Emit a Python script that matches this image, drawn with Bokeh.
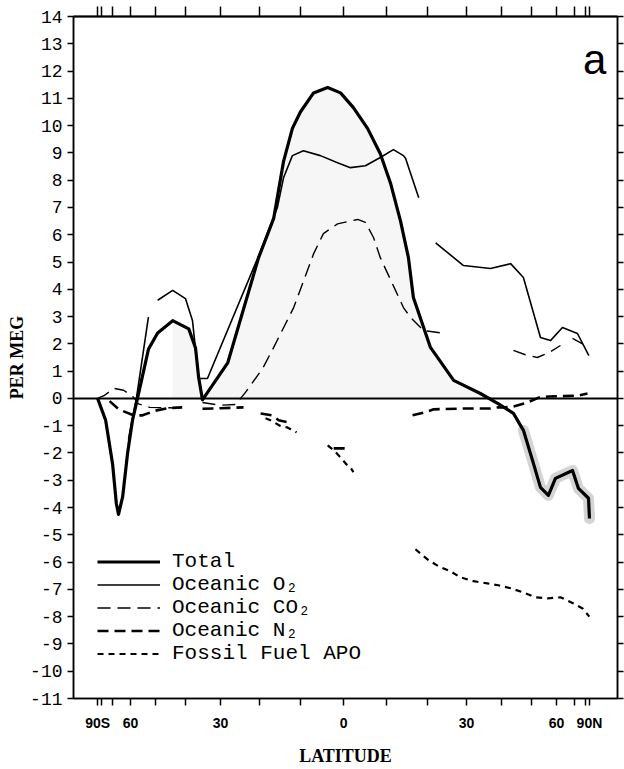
import numpy as np
from bokeh.plotting import figure
from bokeh.models import (Range1d, FixedTicker, LinearAxis, Span, Legend, LegendItem,
                          Label, CustomJSTickFormatter)
from bokeh.embed import file_html
from bokeh.resources import INLINE

nan = float("nan")

# ---------------- data (latitude in degrees, values in per meg) ----------------
total_lat = [-90, -75.3, -69.9, -67.5, -66.2, -63.9, -61.4, -59.1, -56.9, -52.5, -49.1, -44, -39,
             -37, -36.1, -35, -28.1, -20.2, -16.5, -14.1, -12, -10.1, -7, -3.7, -0.7, 2.3, 5.6,
             8.6, 11, 13.4, 15.3, 16.5, 20.7, 26.6, 33.8, 38.8, 43.7, 47, 50.6, 53.2, 56.4, 59.5,
             68.6, 72.8, 85, 90]
total_val = [0, -0.8, -2.4, -3.85, -4.25, -3.6, -2.0, -0.8, 0, 1.8, 2.4, 2.85, 2.55,
             1.85, 0.77, -0.05, 1.3, 5.16, 6.6, 8.7, 9.9, 10.5, 11.2, 11.4, 11.2, 10.66, 9.9,
             8.97, 7.9, 6.5, 5.16, 3.7, 1.87, 0.66, 0.18, -0.18, -0.55, -1.17, -2.4, -3.26, -3.55, -2.93,
             -2.64, -3.3, -3.66, -4.4]

o2_lat = [-61, -57.3, -52.5, nan, -49.1, -44, -40, -37.9, -36.1, -33.6, -19.7, -15.6, -14.1, -12,
          -9.4, -5.4, -1.4, 1.6, 5.1, 8.6, 11.7, 14.1, 14.6, 17.8, nan, 22, 29.2, 36.7, 42.8, 47,
          53.2, 57.3, 62.9, 72, 86]
o2_val = [-1.5, 0.05, 2.98, nan, 3.6, 3.96, 3.66, 2.86, 0.73, 0.73, 5.4, 7.0, 8.1, 8.9,
          9.08, 8.9, 8.64, 8.46, 8.53, 8.83, 9.12, 8.9, 8.8, 7.36, nan, 5.7, 4.87, 4.76, 4.94, 4.43,
          2.23, 2.12, 2.6, 2.38, 1.57]

co2_lat = [-90, -77, -69, -63.4, -58.6, -56.5, -52, -42.5, nan, -35, -30, -26, -23.5, -19.2, -16.5,
           -11.7, -7, -4.7, -1.4, 3.3, 5.1, 7, 8.6, 12.2, 14.1, 15.8, 19, 24.5, nan, 43.7, 47.7, 52,
           57, 61.9, nan, 68.6, 76.4]
co2_val = [0, 0.1, 0.37, 0.3, 0.04, -0.2, -0.33, -0.35, nan, -0.15, -0.25, -0.22, 0.22, 1.1, 1.87,
           3.33, 5.3, 6.04, 6.4, 6.56, 6.45, 5.9, 5.16, 3.96, 3.33, 2.97, 2.49, 2.38, nan, 1.76, 1.6, 1.5,
           1.7, 1.94, nan, 2.2, 2.0]

n2_lat = [-72, -66, -58.6, -54.8, -50, -45, -41, nan, -35, -30, -24, nan, -19.7, -16.8, -15.3, -12.4,
          nan, -2.3, 1.2, nan, 16.3, 19.5, 21.5, 29.2, 33, 36.7, 38.8, 40.6, 43.7, 48.4, 52.5, 56.4,
          62, 72, 82.7]
n2_val = [-0.1, -0.4, -0.62, -0.62, -0.45, -0.35, -0.33, nan, -0.38, -0.36, -0.33, nan, -0.55, -0.62,
          -0.8, -0.9, nan, -1.83, -1.83, nan, -0.62, -0.5, -0.4, -0.37, -0.37, -0.37, -0.33, -0.33,
          -0.3, -0.15, 0.03, 0.07, 0.08, 0.1, 0.18]

ff_lat = [-18.5, -17.3, -15, -13.3, -12.4, -11, nan, -3.7, -2.3, -0.7, 0.7, 1.6, 2.3, nan, 17, 20.2,
          22.7, 25.8, 28.4, 31.9, 35.8, 39, 42.8, 46.7, 51.3, 56, 61.9, 68.6, 76.4, 88]
ff_val = [-0.73, -0.8, -1.0, -1.06, -1.13, -1.24, nan, -1.72, -1.9, -2.16, -2.42, -2.53, -2.7, nan,
          -5.53, -5.93, -6.15, -6.34, -6.56, -6.7, -6.78, -6.85, -6.96, -7.1, -7.29, -7.33, -7.29,
          -7.5, -7.7, -8.0]

x_tick_lats = list(range(-90, 91, 10))
x_label_lats = [-90, -60, -30, 0, 30, 60, 90]
x_label_texts = ["90S", "60", "30", "0", "30", "60", "90N"]
y_ticks = list(range(-11, 15))

series_names = ["Total", "Oceanic O\u2082", "Oceanic CO\u2082", "Oceanic N\u2082", "Fossil Fuel APO"]


def sx(lat):
    return np.sin(np.radians(np.asarray(lat, dtype=float)))


# ---------------- figure ----------------
p = figure(width=624, height=769, output_backend="svg", toolbar_location=None,
           x_range=Range1d(-1.098, 1.114), y_range=Range1d(-11, 14),
           min_border_left=73, min_border_right=7, min_border_top=16, min_border_bottom=71,
           background_fill_color="white", border_fill_color="white")
p.xgrid.visible = False
p.ygrid.visible = False
p.outline_line_color = "black"
p.outline_line_width = 1.5

xticker = FixedTicker(ticks=list(sx(x_tick_lats)))
yticker = FixedTicker(ticks=y_ticks)
xfmt = CustomJSTickFormatter(args=dict(lats=x_label_lats, texts=x_label_texts), code="""
    const lat = Math.round(Math.asin(Math.max(-1, Math.min(1, tick))) * 180 / Math.PI);
    const i = lats.indexOf(lat);
    return i >= 0 ? texts[i] : "";
""")
yfmt = CustomJSTickFormatter(code="return tick.toFixed(0);")
blank = CustomJSTickFormatter(code="return '';")

xa = p.xaxis[0]
xa.ticker = xticker
xa.formatter = xfmt
xa.major_tick_out = 7
xa.major_tick_in = 0
xa.minor_tick_line_color = None
xa.axis_line_width = 1.5
xa.major_tick_line_width = 1.5
xa.major_label_standoff = 9
xa.major_label_text_font = "Liberation Sans"
xa.major_label_text_font_style = "bold"
xa.major_label_text_font_size = "14px"
xa.major_label_text_color = "black"
xa.axis_label = "LATITUDE"
xa.axis_label_text_font = "Liberation Serif"
xa.axis_label_text_font_style = "bold"
xa.axis_label_text_font_size = "18px"
xa.axis_label_text_color = "black"
xa.axis_label_standoff = 12

ya = p.yaxis[0]
ya.ticker = yticker
ya.formatter = yfmt
ya.major_tick_out = 6
ya.major_tick_in = 0
ya.minor_tick_line_color = None
ya.axis_line_width = 1.5
ya.major_tick_line_width = 1.5
ya.major_label_standoff = 5
ya.major_label_text_font = "Liberation Mono"
ya.major_label_text_font_size = "18px"
ya.major_label_text_color = "black"
ya.axis_label = "PER MEG"
ya.axis_label_text_font = "Liberation Serif"
ya.axis_label_text_font_style = "bold"
ya.axis_label_text_font_size = "18px"
ya.axis_label_text_color = "black"
ya.axis_label_standoff = 0

top = LinearAxis(ticker=xticker, formatter=blank, major_tick_out=10, major_tick_in=0,
                 minor_tick_line_color=None, axis_line_width=2, major_tick_line_width=1.5,
                 major_label_text_font_size="0px", major_label_standoff=0)
right = LinearAxis(ticker=yticker, formatter=blank, major_tick_out=6, major_tick_in=0,
                   minor_tick_line_color=None, axis_line_width=1.5, major_tick_line_width=1.5,
                   major_label_text_font_size="0px", major_label_standoff=0)
p.add_layout(top, "above")
p.add_layout(right, "right")

# faint shading under the central hump and halo around the northern Total
tl = np.array(total_lat, dtype=float)
tv = np.array(total_val, dtype=float)
m = (tl >= -45) & (tl <= 36)
p.varea(x=sx(tl[m]), y1=0, y2=np.maximum(tv[m], 0), fill_color="#ececec", fill_alpha=0.45)
h = tl >= 44
p.line(sx(tl[h]), tv[h], line_color="#d4d4d4", line_width=11, line_join="round", line_cap="round")

p.add_layout(Span(location=0, dimension="width", line_color="black", line_width=2))

r_ff = p.line(sx(ff_lat), ff_val, line_color="black", line_width=2.2, line_dash="6 5")
r_n2 = p.line(sx(n2_lat), n2_val, line_color="black", line_width=2.6, line_dash="11 6")
r_co2 = p.line(sx(co2_lat), co2_val, line_color="black", line_width=1.4, line_dash="13 7")
r_o2 = p.line(sx(o2_lat), o2_val, line_color="black", line_width=1.6, line_join="round")
r_tot = p.line(sx(total_lat), total_val, line_color="black", line_width=3.2, line_join="round")

legend = Legend(items=[LegendItem(label=series_names[0], renderers=[r_tot]),
                       LegendItem(label=series_names[1], renderers=[r_o2]),
                       LegendItem(label=series_names[2], renderers=[r_co2]),
                       LegendItem(label=series_names[3], renderers=[r_n2]),
                       LegendItem(label=series_names[4], renderers=[r_ff])],
                location=(24, 33), padding=0, margin=0, spacing=0,
                glyph_width=63, glyph_height=23, label_height=23, label_standoff=12,
                label_text_font="Liberation Mono", label_text_font_size="21px",
                label_text_color="black",
                border_line_color=None, background_fill_alpha=0)
p.add_layout(legend)

p.add_layout(Label(x=1.069, y=12.43, text="a", text_align="right", text_baseline="alphabetic",
                   text_font="Liberation Sans", text_font_size="42px", text_color="black"))

open("out.html", "w").write(file_html(p, INLINE))
